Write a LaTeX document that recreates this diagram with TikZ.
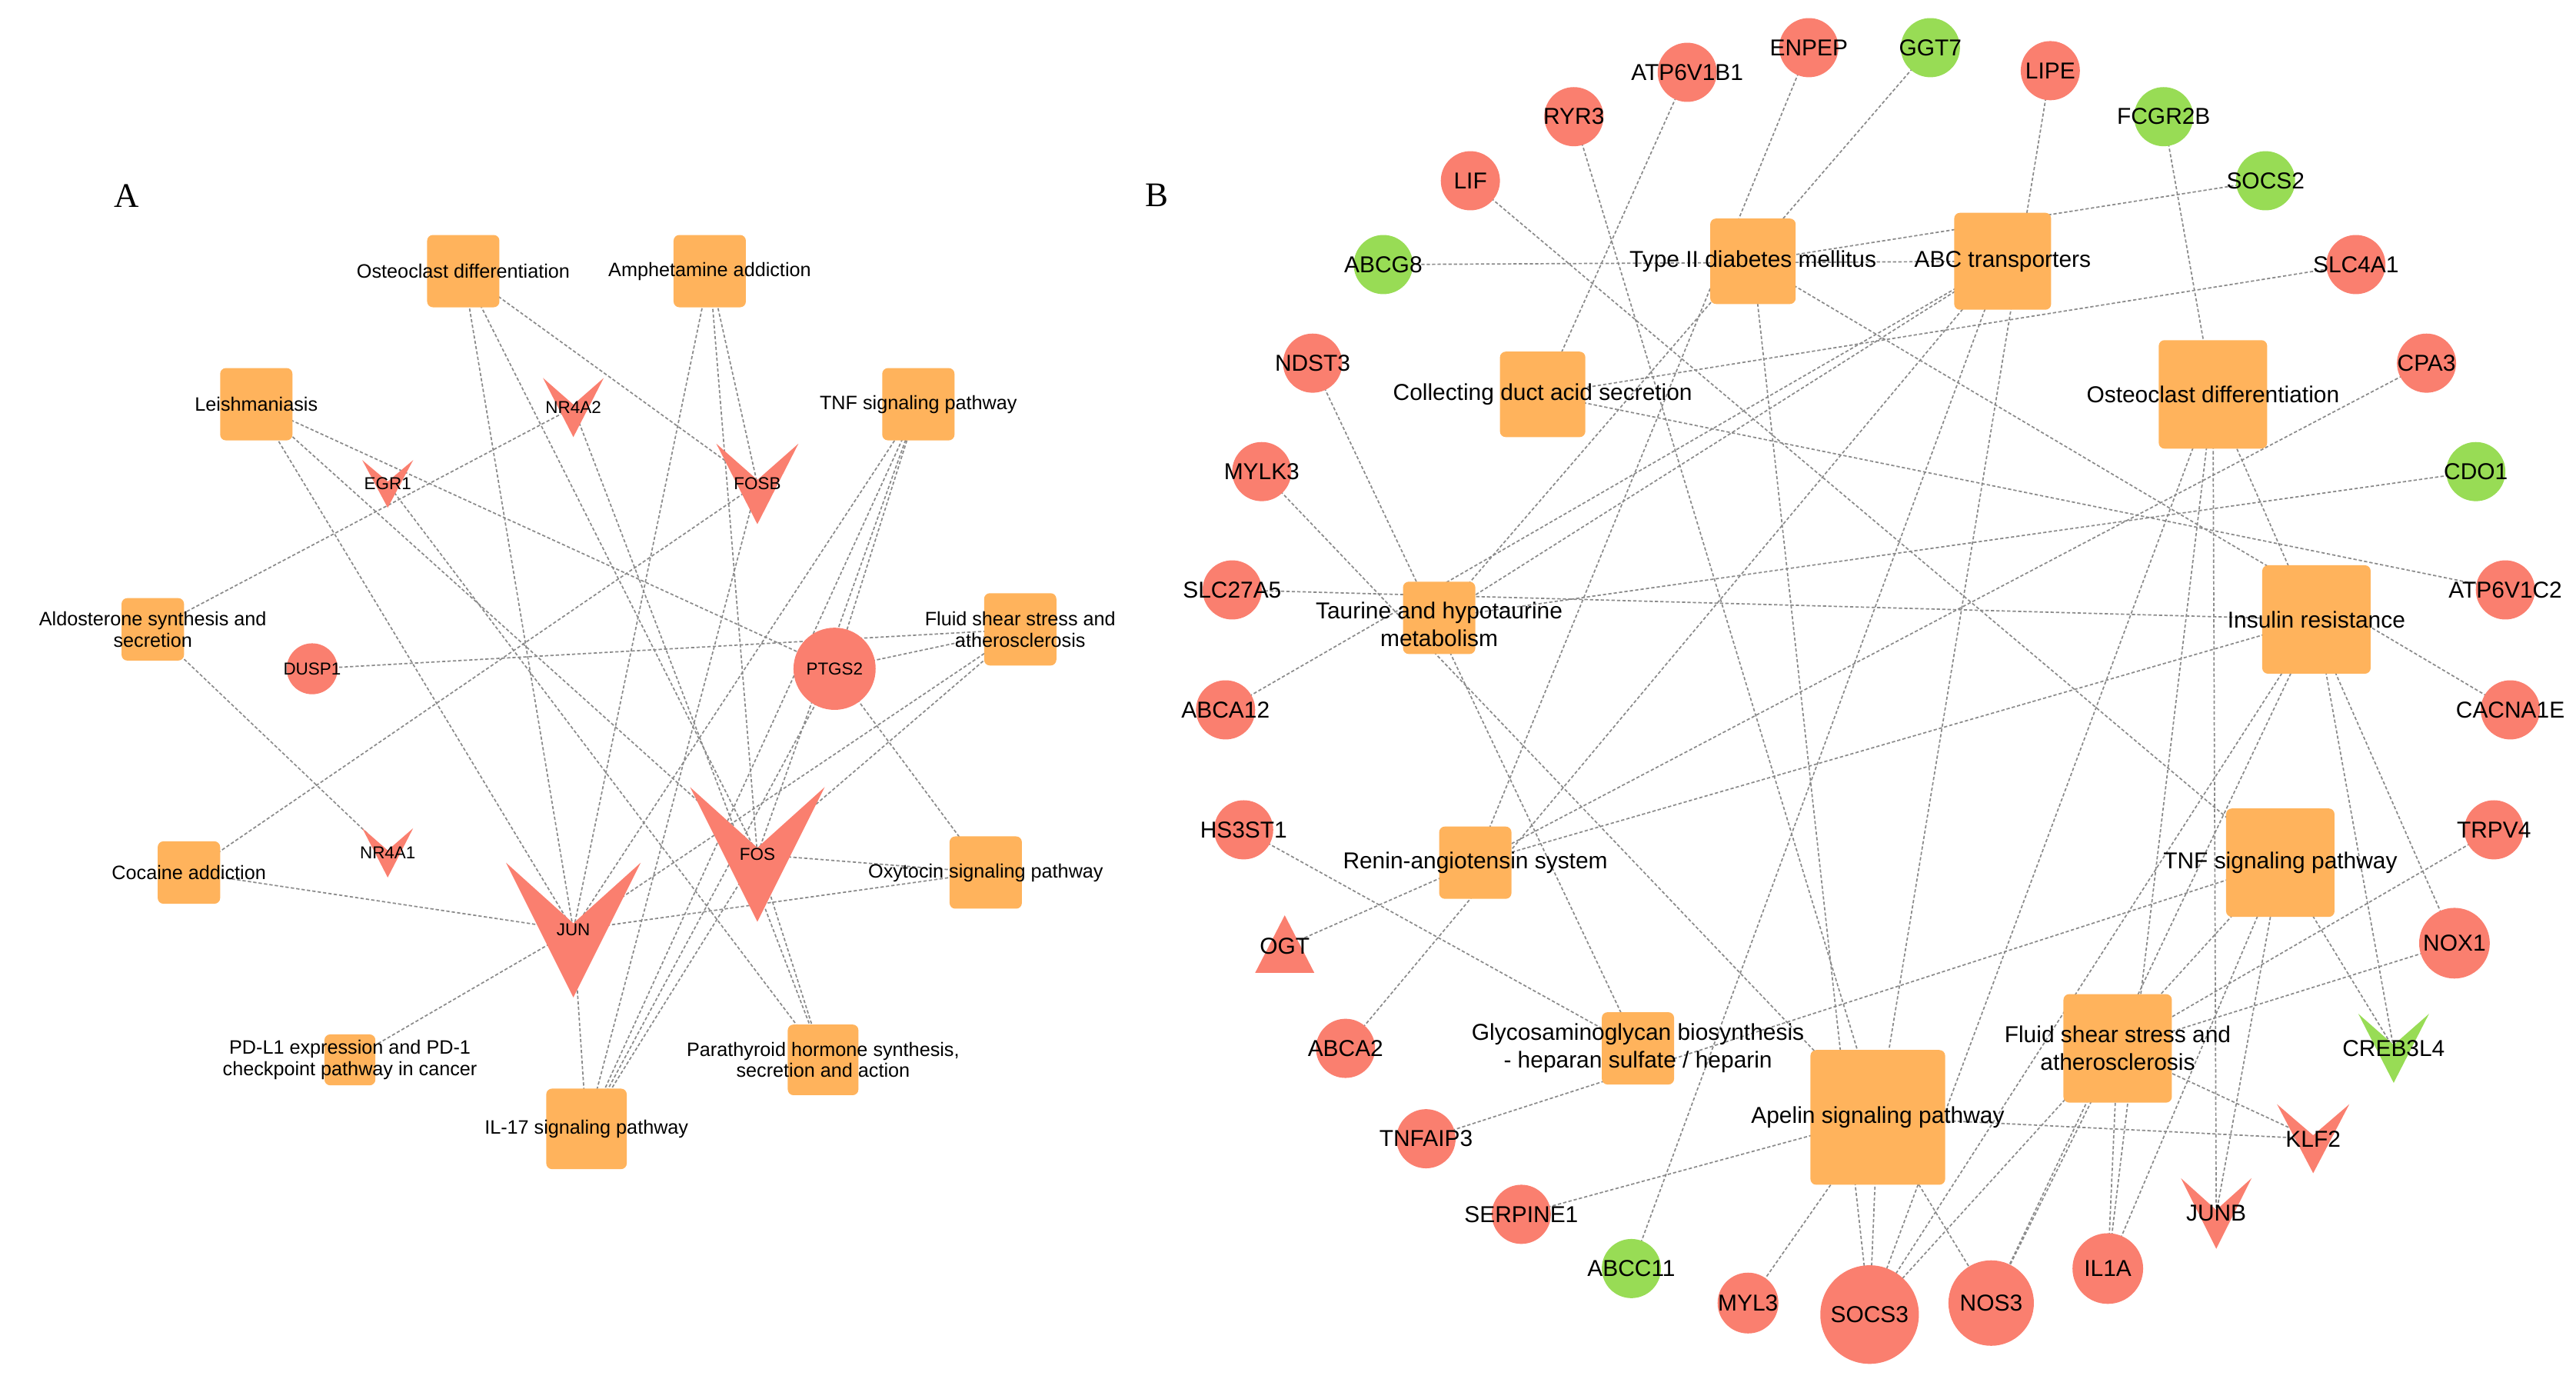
\documentclass[tikz,border=0pt]{standalone}
\usepackage{fontspec}
\setmainfont{Liberation Sans}
\newfontfamily\serifpanel{Liberation Serif}
\pgfdeclarelayer{bg}
\pgfsetlayers{bg,main}
\definecolor{boxc}{HTML}{FFB35C}
\definecolor{redc}{HTML}{FA7F6F}
\definecolor{greenc}{HTML}{98DC55}
\definecolor{edgec}{HTML}{8A8A8A}
\tikzset{
  pw/.style={fill=boxc, rounded corners=3.5pt, minimum size=#1, inner sep=0pt},
  gc/.style={circle, fill=redc, minimum size=#1, inner sep=0pt},
  gg/.style={circle, fill=greenc, minimum size=#1, inner sep=0pt},
  labA/.style={font=\fontsize{11.8}{13}\selectfont, align=center, text=black, inner sep=0pt},
  labB/.style={font=\fontsize{14}{17}\selectfont, align=center, text=black, inner sep=0pt},
  gA/.style={font=\fontsize{10.5}{12}\selectfont, text=black, inner sep=0pt},
  gB/.style={font=\fontsize{14}{15}\selectfont, text=black, inner sep=0pt},
  e/.style={draw=edgec, dash pattern=on 2pt off 1.3pt, line width=0.8pt},
  panel/.style={font=\serifpanel\fontsize{21}{24}\selectfont, inner sep=0pt}
}
% name, x, top, tip, width, colour, label style, label
\newcommand\vnode[8]{%
  \fill[#6] ({#2-#5/2},#3) -- (#2,{#3+0.45*(#4-#3)}) -- ({#2+#5/2},#3) -- (#2,#4) -- cycle;
  \node[#7] (#1) at (#2,{(#3+#4)/2}) {#8};}
\begin{document}
\begin{tikzpicture}[x=1pt,y=-1pt]
\useasboundingbox (0,0) rectangle (1568,839);
\node[panel] (pA) at (77,119) {A};
\node[panel] (pB) at (704,119) {B};
% ---------------- Panel A ----------------
\node[pw=44, label={[labA]center:Osteoclast differentiation}] (aost) at (282,165) {};
\node[pw=44, label={[labA]center:Amphetamine addiction}] (aamp) at (432,165) {};
\node[pw=44, label={[labA]center:Leishmaniasis}] (alei) at (156,246) {};
\node[pw=44, label={[labA]center:TNF signaling pathway}] (atnf) at (559,246) {};
\node[pw=38, label={[labA]center:Aldosterone synthesis and\\secretion}] (aald) at (93,383) {};
\node[pw=44, label={[labA]center:Fluid shear stress and\\atherosclerosis}] (aflu) at (621,383) {};
\node[pw=38, label={[labA]center:Cocaine addiction}] (acoc) at (115,531) {};
\node[pw=44, label={[labA]center:Oxytocin signaling pathway}] (aoxy) at (600,531) {};
\node[pw=31, label={[labA]center:PD-L1 expression and PD-1\\checkpoint pathway in cancer}] (apdl) at (213,645) {};
\node[pw=43, label={[labA]center:Parathyroid hormone synthesis,\\secretion and action}] (apar) at (501,645) {};
\node[pw=49, label={[labA]center:IL-17 signaling pathway}] (ail) at (357,687) {};
\node[gc=31, label={[gA]center:DUSP1}] (adus) at (190,407) {};
\node[gc=50, label={[gA]center:PTGS2}] (aptg) at (508,407) {};
\vnode{aegr}{236}{280}{309}{31}{redc}{gA}{EGR1}
\vnode{anr2}{349}{230}{266}{37}{redc}{gA}{NR4A2}
\vnode{afsb}{461}{270}{319}{50}{redc}{gA}{FOSB}
\vnode{anr1}{236}{504}{534}{31}{redc}{gA}{NR4A1}
\vnode{ajun}{349}{525}{607}{82}{redc}{gA}{JUN}
\vnode{afos}{461}{479}{561}{82}{redc}{gA}{FOS}
% ---------------- Panel B ----------------
\node[pw=52, label={[labB]center:Type II diabetes mellitus}] (btyp) at (1067,159) {};
\node[pw=59, label={[labB]center:ABC transporters}] (babc) at (1219,159) {};
\node[pw=52, label={[labB]center:Collecting duct acid secretion}] (bcol) at (939,240) {};
\node[pw=66, label={[labB]center:Osteoclast differentiation}] (bost) at (1347,240) {};
\node[pw=44, label={[labB,yshift=-4pt]center:Taurine and hypotaurine\\metabolism}] (btau) at (876,376) {};
\node[pw=66, label={[labB]center:Insulin resistance}] (bins) at (1410,377) {};
\node[pw=44, label={[labB]center:Renin-angiotensin system}] (bren) at (898,525) {};
\node[pw=66, label={[labB]center:TNF signaling pathway}] (btnf) at (1388,525) {};
\node[pw=44, label={[labB]center:Glycosaminoglycan biosynthesis\\- heparan sulfate / heparin}] (bgly) at (997,638) {};
\node[pw=66, label={[labB]center:Fluid shear stress and\\atherosclerosis}] (bflu) at (1289,638) {};
\node[pw=82, label={[labB]center:Apelin signaling pathway}] (bape) at (1143,680) {};
% genes
\node[gc=36, label={[gB]center:ENPEP}] (enpep) at (1101,29) {};
\node[gg=36, label={[gB]center:GGT7}] (ggt7) at (1175,29) {};
\node[gc=36, label={[gB]center:ATP6V1B1}] (atpb) at (1027,44) {};
\node[gc=36, label={[gB]center:LIPE}] (lipe) at (1248,43) {};
\node[gc=36, label={[gB]center:RYR3}] (ryr3) at (958,71) {};
\node[gg=36, label={[gB]center:FCGR2B}] (fcgr) at (1317,71) {};
\node[gc=36, label={[gB]center:LIF}] (lif) at (895,110) {};
\node[gg=36, label={[gB]center:SOCS2}] (socs2) at (1379,110) {};
\node[gg=36, label={[gB]center:ABCG8}] (abcg8) at (842,161) {};
\node[gc=36, label={[gB]center:SLC4A1}] (slc4) at (1434,161) {};
\node[gc=36, label={[gB]center:NDST3}] (ndst3) at (799,221) {};
\node[gc=36, label={[gB]center:CPA3}] (cpa3) at (1477,221) {};
\node[gc=36, label={[gB]center:MYLK3}] (mylk3) at (768,287) {};
\node[gg=36, label={[gB]center:CDO1}] (cdo1) at (1507,287) {};
\node[gc=36, label={[gB]center:SLC27A5}] (slc27) at (750,359) {};
\node[gc=36, label={[gB]center:ATP6V1C2}] (atpc) at (1525,359) {};
\node[gc=36, label={[gB]center:ABCA12}] (abca12) at (746,432) {};
\node[gc=36, label={[gB]center:CACNA1E}] (cacna) at (1528,432) {};
\node[gc=36, label={[gB]center:HS3ST1}] (hs3) at (757,505) {};
\node[gc=36, label={[gB]center:TRPV4}] (trpv4) at (1518,505) {};
\fill[redc] (764,592) -- (782,557) -- (800,592) -- cycle;
\node[gB] (ogt) at (782,576) {OGT};
\node[gc=43, label={[gB]center:NOX1}] (nox1) at (1494,574) {};
\node[gc=36, label={[gB]center:ABCA2}] (abca2) at (819,638) {};
\vnode{creb}{1457}{617}{659}{43}{greenc}{gB}{CREB3L4}
\node[gc=36, label={[gB]center:TNFAIP3}] (tnfa) at (868,693) {};
\vnode{klf2}{1408}{672}{714}{44}{redc}{gB}{KLF2}
\node[gc=36, label={[gB]center:SERPINE1}] (serp) at (926,739) {};
\vnode{junb}{1349}{717}{760}{43}{redc}{gB}{JUNB}
\node[gg=36, label={[gB]center:ABCC11}] (abcc11) at (993,772) {};
\node[gc=43, label={[gB]center:IL1A}] (il1a) at (1283,772) {};
\node[gc=37, label={[gB]center:MYL3}] (myl3) at (1064,793) {};
\node[gc=60, label={[gB]center:SOCS3}] (socs3) at (1138,800) {};
\node[gc=52, label={[gB]center:NOS3}] (nos3) at (1212,793) {};
% ---------------- Edges ----------------
\begin{pgfonlayer}{bg}
\foreach \a/\b in {aost/afsb,aost/ajun,aost/afos,aamp/ajun,aamp/afsb,aamp/afos,
  alei/aptg,alei/ajun,alei/afos,atnf/aptg,atnf/afos,atnf/ajun,atnf/ail,
  anr2/aald,anr2/apar,aegr/apar,afsb/acoc,afsb/ail,adus/aflu,aptg/aflu,aptg/aoxy,aptg/ail,
  aald/anr1,acoc/ajun,aoxy/afos,aoxy/ajun,apdl/ajun,ail/ajun,ail/afos,aflu/ajun,aflu/afos,apar/afos,
  abcg8/babc,socs2/btyp,enpep/bren,ggt7/btau,atpb/bcol,ryr3/bape,lif/btnf,lipe/bape,fcgr/bost,
  slc4/bcol,cpa3/bren,cdo1/btau,atpc/bcol,cacna/btyp,ndst3/bgly,hs3/bgly,mylk3/bape,slc27/bins,
  abca12/babc,ogt/bren,abca2/babc,tnfa/btnf,serp/bape,abcc11/babc,myl3/bape,
  socs3/bape,socs3/btyp,socs3/bost,socs3/bins,socs3/btnf,nos3/bape,nos3/bins,nos3/bflu,
  il1a/bflu,il1a/bost,il1a/btnf,junb/bost,junb/btnf,klf2/bflu,klf2/bape,creb/bins,creb/btnf,
  nox1/bflu,nox1/bost,trpv4/bflu,bren/bins,btau/babc}
  \draw[e] (\a.center) -- (\b.center);
\end{pgfonlayer}
\end{tikzpicture}
\end{document}
